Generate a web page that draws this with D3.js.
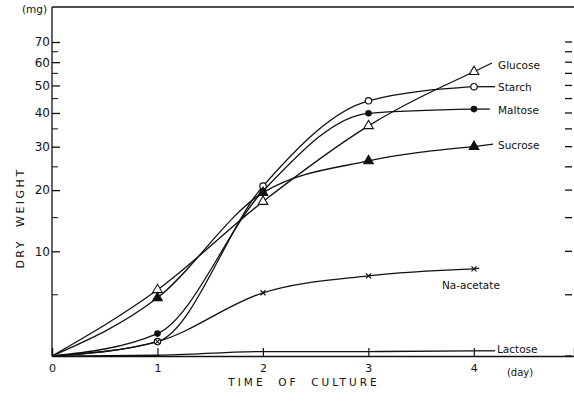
<!DOCTYPE html>
<html><head><meta charset="utf-8">
<script src="https://cdn.jsdelivr.net/npm/d3@7"></script>
<style>body{margin:0;background:#fff}svg{display:block}text{font-family:"DejaVu Sans",sans-serif;fill:#111}</style>
</head><body>
<svg id="c" width="574" height="405"></svg>
<script>
// data (dry weight, mg) vs day
const days = [0, 1, 2, 3, 4];
const glucose   = [0, 5.5, 17.8, 35.9, 55.7];
const starch    = [0, 1.0, 20.8, 44.2, 49.5];
const maltose   = [0, 1.6, 19.8, 39.9, 41.3];
const sucrose   = [0, 4.7, 19.5, 26.4, 30.0];
const naAcetate = [0, 1.0, 5.2, 7.0, 7.8];
const lactose   = [0, 0.05, 0.3, 0.3, 0.35];
const yTicks = [0, 10, 20, 30, 40, 50, 60, 70];
const yMinor = [5, 15, 25, 35, 45, 55, 65];
const xTicks = [0, 1, 2, 3, 4];
// label leader ends: [day, value]
const series = [
  {name:"Glucose", vals:glucose, marker:"triOpen", lead:[4.17, 59.6]},
  {name:"Starch", vals:starch, marker:"circOpen", lead:[4.2, 49.5]},
  {name:"Maltose", vals:maltose, marker:"circFill", lead:[4.15, 41.3]},
  {name:"Sucrose", vals:sucrose, marker:"triFill", lead:[4.18, 30.7]},
  {name:"Na-acetate", vals:naAcetate, marker:"x", lead:[4.05, 7.9]},
  {name:"Lactose", vals:lactose, marker:null, lead:[4.2, 0.35]}
];

const svg = d3.select("#c");
const x = d3.scaleLinear().domain([0, 4]).range([52, 474]);
const yl = d3.scaleLog().domain([10, 80]).range([356, 42]);
const y = v => yl(v + 10);

// frame
svg.append("line").attr("x1",52).attr("x2",574).attr("y1",7).attr("y2",7).attr("stroke","#111").attr("stroke-width",1.3);
// left axis
const ax = svg.append("g").attr("transform","translate(52,0)")
  .call(d3.axisLeft(yl).tickValues(yTicks.filter(d=>d>0).map(d=>d+10)).tickFormat(d=>d-10).tickSize(-8).tickPadding(12));
ax.select(".domain").attr("d","M0,7V356").attr("stroke","#111").attr("stroke-width",1.3);
ax.selectAll(".tick line").attr("stroke","#111").attr("stroke-width",1.3);
ax.selectAll(".tick text").attr("font-size",12).attr("fill","#111").attr("x",-2);
svg.append("g").selectAll("line").data(yMinor).join("line")
  .attr("x1",52).attr("x2",58).attr("y1",d=>y(d)).attr("y2",d=>y(d)).attr("stroke","#111");
// right-side ticks
svg.append("g").selectAll("line").data(yTicks.concat(yMinor)).join("line")
  .attr("x1",565).attr("x2",572).attr("y1",d=>y(d)).attr("y2",d=>y(d)).attr("stroke","#111").attr("stroke-width",1.3);

// bottom axis
const bx = svg.append("g").attr("transform","translate(0,356)")
  .call(d3.axisBottom(d3.scaleLinear().domain([0,4.95]).range([52,574])).tickValues(xTicks).tickFormat(d3.format("d")).tickSize(-8).tickPadding(8));
bx.select(".domain").attr("stroke","#111").attr("stroke-width",1.3);
bx.selectAll(".tick line").attr("stroke","#111").attr("stroke-width",1.2);
bx.selectAll(".tick text").attr("font-size",11).attr("fill","#111");

// axis titles
svg.append("text").attr("x",304).attr("y",386).attr("text-anchor","middle").attr("font-size",10.5).attr("letter-spacing",3).attr("xml:space","preserve").text("TIME  OF  CULTURE");
svg.append("text").attr("x",520).attr("y",376).attr("text-anchor","middle").attr("font-size",10).text("(day)");
svg.append("text").attr("transform","translate(24,218) rotate(-90)").attr("text-anchor","middle").attr("font-size",11).attr("letter-spacing",2.5).attr("xml:space","preserve").text("DRY  WEIGHT");
svg.append("text").attr("x",22).attr("y",13).attr("font-size",10.5).text("(mg)");

// lines
const line = d3.line().x(d=>x(d[0])).y(d=>y(d[1])).curve(d3.curveMonotoneX);
series.forEach(s=>{
  const pts = days.map((d,i)=>[d, s.vals[i]]);
  svg.append("path").attr("d", line(pts)).attr("fill","none").attr("stroke","#111").attr("stroke-width",1.3);
  svg.append("line").attr("x1",x(4)).attr("y1",y(s.vals[4])).attr("x2",x(s.lead[0])).attr("y2",y(s.lead[1])).attr("stroke","#111").attr("stroke-width",1.3);
});

// markers
const mg = svg.append("g");
series.forEach(s=>{
  if(!s.marker) return;
  days.forEach((d,i)=>{
    if(i===0) return;
    const cx = x(d), cy = y(s.vals[i]);
    if(s.marker==="circOpen") mg.append("circle").attr("cx",cx).attr("cy",cy).attr("r",3.2).attr("fill","#fff").attr("stroke","#111").attr("stroke-width",1.2);
    if(s.marker==="circFill") mg.append("circle").attr("cx",cx).attr("cy",cy).attr("r",3.3).attr("fill","#111");
    if(s.marker==="triOpen"||s.marker==="triFill") mg.append("path").attr("d",d3.symbol(d3.symbolTriangle,40)()).attr("transform",`translate(${cx},${cy})`).attr("fill",s.marker==="triFill"?"#111":"#fff").attr("stroke","#111").attr("stroke-width",1.1);
    if(s.marker==="x") mg.append("path").attr("d","M-2.5,-2.5L2.5,2.5M-2.5,2.5L2.5,-2.5").attr("transform",`translate(${cx},${cy})`).attr("stroke","#111").attr("stroke-width",1.2);
  });
});

// series labels
const labelPos = {"Glucose":[498,69],"Starch":[498,91],"Maltose":[498,114],"Sucrose":[498,149],"Na-acetate":[442,289],"Lactose":[497,353]};
series.forEach(s=>{
  const p = labelPos[s.name];
  svg.append("text").attr("x",p[0]).attr("y",p[1]).attr("font-size",10.5).text(s.name);
});
</script>
</body></html>
